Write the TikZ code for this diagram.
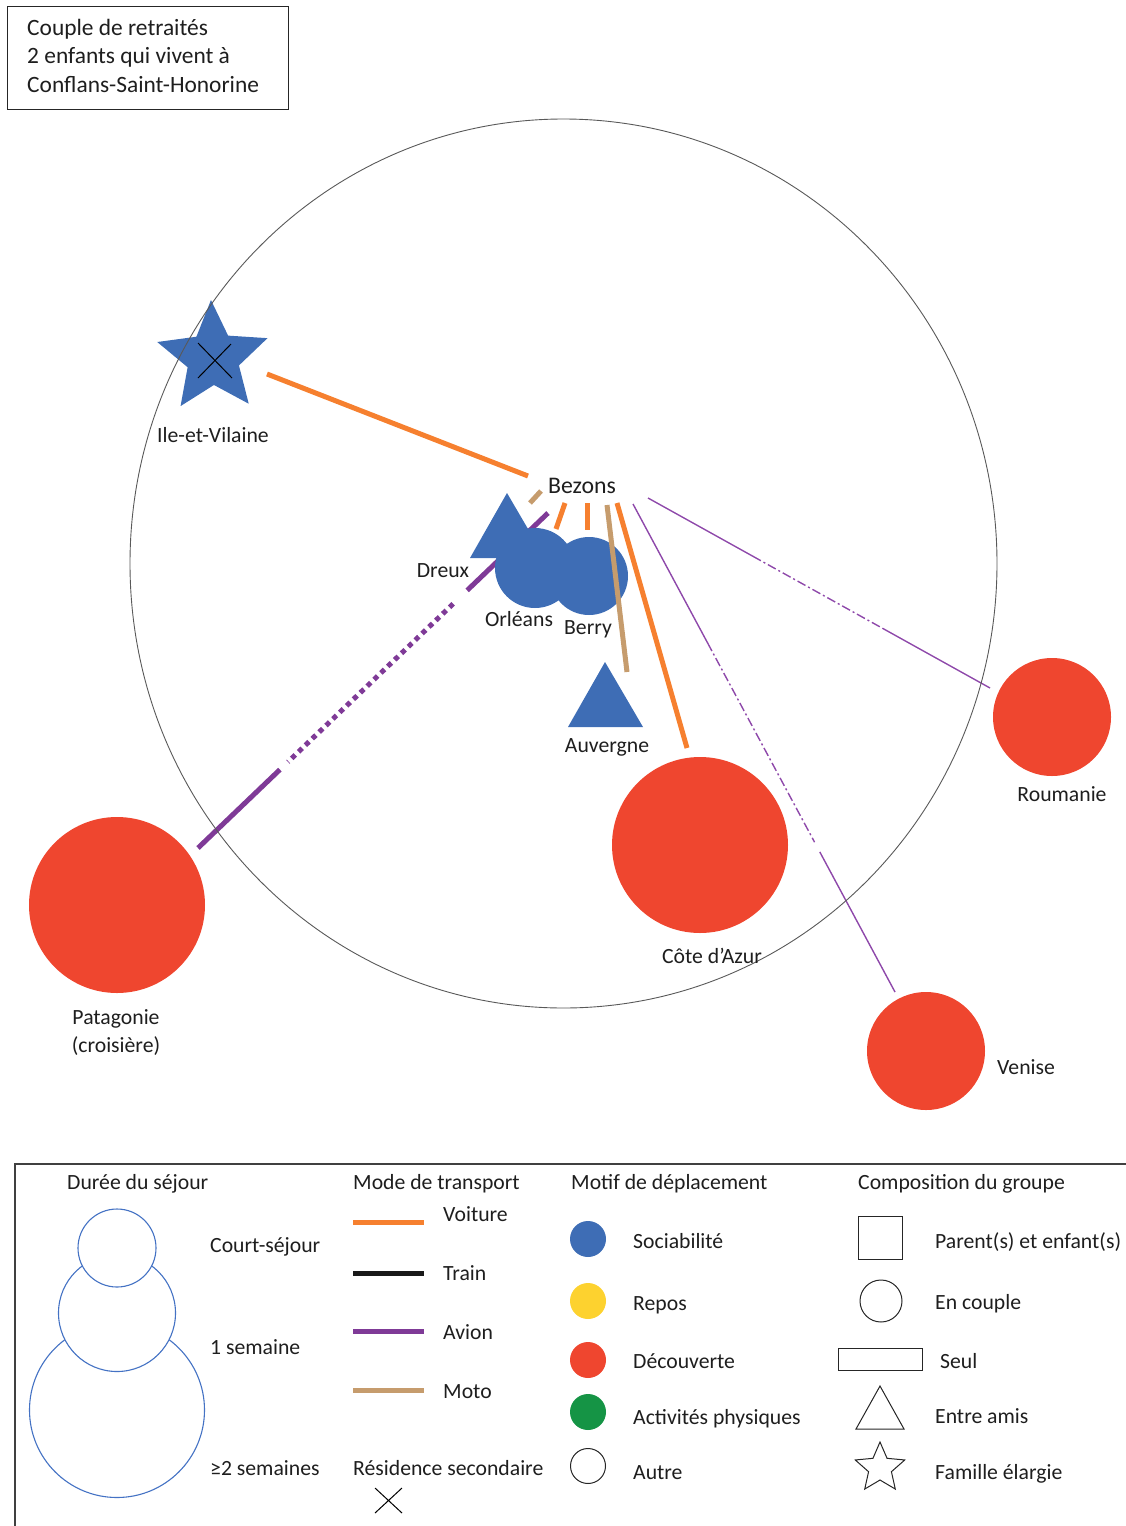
\documentclass[tikz,border=0pt]{standalone}
\usepackage{fontspec}
\setmainfont{Carlito}
\usetikzlibrary{calc}
\definecolor{sblue}{HTML}{3E6DB5}
\definecolor{dred}{HTML}{EF462F}
\definecolor{vorange}{HTML}{F6802F}
\definecolor{apurple}{HTML}{7F3A97}
\definecolor{tpurple}{HTML}{8E48AA}
\definecolor{mtan}{HTML}{C69C6D}
\definecolor{ryellow}{HTML}{FDD22F}
\definecolor{agreen}{HTML}{159445}
\definecolor{lblue}{HTML}{4472C4}
\definecolor{txtc}{HTML}{1E1E1E}
\begin{document}
\begin{tikzpicture}[x=1pt,y=-1pt,
  txt/.style={font=\fontsize{21.7}{28}\selectfont, inner sep=0pt, text=txtc},
  lb/.style={txt, anchor=base},
  lw/.style={txt, anchor=base west},
  hd/.style={lw, font=\fontsize{23.4}{28}\selectfont},
  fat/.style={line width=5pt},
  thin purple/.style={tpurple, line width=1.4pt},
  place/.style={circle, inner sep=0pt, fill=#1},
  dot/.style={circle, inner sep=0pt, minimum size=36pt, fill=#1},
  dur/.style={circle, inner sep=0pt, draw=lblue, fill=white, line width=1.1pt},
  outl/.style={draw=black!85, line width=1pt, inner sep=0pt}
]
\useasboundingbox (0,0) rectangle (1125,1526);

% ---------- header box ----------
\draw[line width=1pt, black!85] (7,6) rectangle (288,109);
\node[hd] (h1) at (27,35) {Couple de retraités};
\node[hd] (h2) at (27,63) {2 enfants qui vivent à};
\node[hd] (h3) at (27,92) {Conflans-Saint-Honorine};

% ---------- places ----------
\node[place=dred, minimum size=176pt] (cote) at (700,845) {};
\node[place=dred, minimum size=118pt] (roum) at (1052,717) {};
\node[place=dred, minimum size=176pt] (pata) at (117,905) {};
\node[place=dred, minimum size=118pt] (veni) at (926,1051) {};

% connector end points
\coordinate (iA) at (267,374); \coordinate (iB) at (528,476);
\coordinate (mA) at (530,503); \coordinate (mB) at (541,491);
\coordinate (pA) at (548,513); \coordinate (pB) at (198,848);
\coordinate (oA) at (565,503); \coordinate (oB) at (556,529);
\coordinate (bA) at (587,503); \coordinate (bB) at (587,530);
\coordinate (aA) at (607,505); \coordinate (aB) at (627,672);
\coordinate (cA) at (617,503); \coordinate (cB) at (687,748);
\coordinate (vA) at (633,504); \coordinate (vB) at (895,992);
\coordinate (rA) at (648,498); \coordinate (rB) at (990,688);

% lines under the blue shapes
\draw[vorange, fat] (iA) -- (iB);
\draw[mtan, fat] (mA) -- (mB);
\draw[vorange, fat] (oA) -- (oB);
\draw[vorange, fat] (bA) -- (bB);
\draw[apurple, fat] (pA) -- ($(pA)!0.231!(pB)$);
\draw[apurple, fat, dash pattern=on 5pt off 4.5pt] ($(pA)!0.271!(pB)$) -- ($(pA)!0.743!(pB)$);
\draw[apurple, fat] ($(pA)!0.766!(pB)$) -- (pB);

% thin purple lines
\draw[thin purple] (vA) -- ($(vA)!0.285!(vB)$);
\draw[thin purple, dash pattern=on 9pt off 3pt on 2pt off 3pt] ($(vA)!0.285!(vB)$) -- ($(vA)!0.693!(vB)$);
\draw[thin purple] ($(vA)!0.713!(vB)$) -- (vB);
\draw[thin purple] (rA) -- ($(rA)!0.307!(rB)$);
\draw[thin purple, dash pattern=on 9pt off 3pt on 2pt off 3pt] ($(rA)!0.307!(rB)$) -- ($(rA)!0.687!(rB)$);
\draw[thin purple] ($(rA)!0.687!(rB)$) -- (rB);

% blue shapes
\fill[sblue] (507,493) -- (545,558) -- (470,558) -- cycle;
\node[place=sblue, minimum size=80pt] (orl) at (535,568) {};
\node[place=sblue, minimum size=78pt] (ber) at (589,576) {};
\fill[sblue] (605,662) -- (643,727) -- (568,727) -- cycle;
\coordinate (ille) at (213,358);
\fill[sblue] ([shift={(ille)}]-92:58) -- ([shift={(ille)}]-128:27) -- ([shift={(ille)}]-164:58) -- ([shift={(ille)}]-200:27)
  -- ([shift={(ille)}]-236:58) -- ([shift={(ille)}]-272:27) -- ([shift={(ille)}]-308:58) -- ([shift={(ille)}]-344:27)
  -- ([shift={(ille)}]-20:58) -- ([shift={(ille)}]-56:27) -- cycle;

% lines over the blue shapes
\draw[mtan, fat] (aA) -- (aB);
\draw[vorange, fat] (cA) -- (cB);

% big circle
\node[draw=none, inner sep=0] (zone) at (563.5,563.5) {};
\draw[black!65, line width=0.9pt] (zone) ellipse [x radius=433.5, y radius=444.5];

% residence secondaire mark
\draw[black, line width=1pt] (198,343) -- (232,378) (231,344) -- (198,378);

% labels
\node[lb] (lille) at (213,442) {Ile-et-Vilaine};
\node[lb, font=\fontsize{23.8}{28}\selectfont] (bez) at (582,493) {Bezons};
\node[lb] (ldre) at (443,577) {Dreux};
\node[lb] (lorl) at (519,626) {Orléans};
\node[lb] (lber) at (588,634) {Berry};
\node[lb] (lauv) at (607,752) {Auvergne};
\node[lb] (lcote) at (712,963) {Côte d’Azur};
\node[lb] (lroum) at (1062,801) {Roumanie};
\node[lb] (lpata) at (116,1024) {Patagonie};
\node[lb] (lcroi) at (116,1052) {(croisière)};
\node[lw] (lveni) at (997,1074) {Venise};

% ---------- legend ----------
\draw[line width=1.2pt, black!75] (1140,1164) -- (15,1164) -- (15,1540);

% duree
\node[lw] (tdur) at (67,1189) {Durée du séjour};
\node[dur, minimum size=175pt] (dlong) at (117,1410) {};
\node[dur, minimum size=117pt] (dweek) at (117,1313) {};
\node[dur, minimum size=78pt] (dshort) at (117,1248) {};
\node[lw] (ldshort) at (210,1252) {Court-séjour};
\node[lw] (ldweek) at (210,1354) {1 semaine};
\node[lw] (ldlong) at (210,1475) {≥2 semaines};

% transport
\node[lw] (ttr) at (353,1189) {Mode de transport};
\coordinate (t1a) at (353,1222); \coordinate (t1b) at (424,1222);
\coordinate (t2a) at (353,1273); \coordinate (t2b) at (424,1273);
\coordinate (t3a) at (353,1331); \coordinate (t3b) at (424,1331);
\coordinate (t4a) at (353,1390); \coordinate (t4b) at (424,1390);
\draw[vorange, fat] (t1a) -- (t1b);
\draw[black!90, fat] (t2a) -- (t2b);
\draw[apurple, fat] (t3a) -- (t3b);
\draw[mtan, fat] (t4a) -- (t4b);
\node[lw] (lvoi) at (443,1221) {Voiture};
\node[lw] (ltra) at (443,1280) {Train};
\node[lw] (lavi) at (443,1339) {Avion};
\node[lw] (lmot) at (443,1398) {Moto};
\node[lw] (lres) at (353,1475) {Résidence secondaire};
\draw[black, line width=1pt] (375,1488) -- (402,1513) (402,1488) -- (375,1513);

% motif
\node[lw] (tmot) at (571,1189) {Motif de déplacement};
\node[dot=sblue] (msoc) at (588,1239) {};
\node[dot=ryellow] (mrep) at (588,1301) {};
\node[dot=dred] (mdec) at (588,1360) {};
\node[dot=agreen] (mact) at (588,1412) {};
\node[circle, outl, minimum size=35pt] (maut) at (588,1466) {};
\node[lw] (lsoc) at (633,1248) {Sociabilité};
\node[lw] (lrep) at (633,1310) {Repos};
\node[lw] (ldec) at (633,1368) {Découverte};
\node[lw] (lact) at (633,1424) {Activités physiques};
\node[lw] (laut) at (633,1479) {Autre};

% composition
\node[lw] (tcomp) at (858,1189) {Composition du groupe};
\node[rectangle, outl, minimum width=44pt, minimum height=43pt] (csq) at (880,1237.5) {};
\node[circle, outl, minimum size=42pt] (cci) at (881,1301) {};
\node[rectangle, outl, minimum width=84pt, minimum height=22pt] (cre) at (880,1359) {};
\draw[black!85, line width=1pt] (880,1386) -- (904,1429) -- (856,1429) -- cycle;
\coordinate (cst) at (880,1468);
\draw[black!85, line width=1pt] ([shift={(cst)}]-90:26) -- ([shift={(cst)}]-126:12) -- ([shift={(cst)}]-162:26) -- ([shift={(cst)}]-198:12)
  -- ([shift={(cst)}]-234:26) -- ([shift={(cst)}]-270:12) -- ([shift={(cst)}]-306:26) -- ([shift={(cst)}]-342:12)
  -- ([shift={(cst)}]-18:26) -- ([shift={(cst)}]-54:12) -- cycle;
\node[lw] (lpar) at (935,1248) {Parent(s) et enfant(s)};
\node[lw] (lcou) at (935,1309) {En couple};
\node[lw] (lseu) at (940,1368) {Seul};
\node[lw] (lent) at (935,1423) {Entre amis};
\node[lw] (lfam) at (935,1479) {Famille élargie};
\end{tikzpicture}
\end{document}
